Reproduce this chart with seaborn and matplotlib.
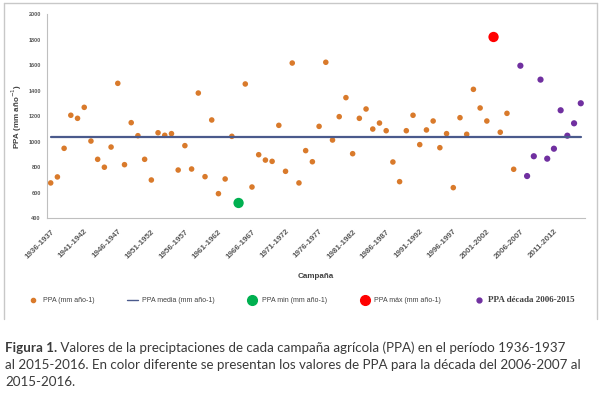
import numpy as np
import pandas as pd
import seaborn as sns
import matplotlib.pyplot as plt
from matplotlib.lines import Line2D

# PPA por campaña (mm año-1), 1936-1937 ... 2015-2016
primer_anio = 1936
ppa = [677, 724, 948, 1207, 1183, 1269, 1005, 862, 800, 958,
       1457, 820, 1149, 1047, 862, 700, 1070, 1050, 1063, 778,
       969, 786, 1381, 726, 1170, 593, 708, 1042, 520, 1452,
       645, 898, 856, 846, 1128, 768, 1616, 677, 930, 843,
       1120, 1622, 1013, 1196, 1345, 906, 1183, 1256, 1099, 1146,
       1086, 841, 687, 1086, 1207, 977, 1092, 1162, 953, 1063,
       640, 1188, 1058, 1410, 1264, 1162, 1820, 1074, 1222, 784,
       1595, 731, 886, 1486, 867, 945, 1246, 1047, 1144, 1301]
ppa_media = 1040
decada_inicio = 2006

campanias = [f"{primer_anio + i}-{primer_anio + i + 1}" for i in range(len(ppa))]
df = pd.DataFrame({"idx": range(len(ppa)), "campania": campanias, "ppa": ppa})
anio = primer_anio + df["idx"]
df["grupo"] = np.where(anio >= decada_inicio, "decada", "normal")
df.loc[df["ppa"].idxmin(), "grupo"] = "min"
df.loc[df["ppa"].idxmax(), "grupo"] = "max"

naranja = "#D97A2B"
azul = "#4A5A8C"
verde = "#00B050"
rojo = "#FF0000"
violeta = "#7030A0"
gris = "#595959"

sns.set_style("white")
plt.rcParams["font.family"] = ["Liberation Sans", "DejaVu Sans"]

fig = plt.figure(figsize=(6, 3.97), dpi=100)
ax = fig.add_axes([47 / 600, 1 - 218.3 / 397, 538 / 600, (218.3 - 14) / 397])

sns.lineplot(x=df["idx"], y=[ppa_media] * len(df), color=azul, linewidth=1.6, ax=ax)
sns.scatterplot(data=df[df["grupo"] == "normal"], x="idx", y="ppa", color=naranja,
                s=16, edgecolor="none", ax=ax, legend=False)
sns.scatterplot(data=df[df["grupo"] == "decada"], x="idx", y="ppa", color=violeta,
                s=20, edgecolor="none", ax=ax, legend=False)
sns.scatterplot(data=df[df["grupo"] == "min"], x="idx", y="ppa", color=verde,
                s=55, edgecolor="none", ax=ax, legend=False)
sns.scatterplot(data=df[df["grupo"] == "max"], x="idx", y="ppa", color=rojo,
                s=55, edgecolor="none", ax=ax, legend=False)

ax.set_xlim(-0.55, 79.63)
ax.set_ylim(400, 2000)
ax.set_yticks(range(400, 2001, 200))
ax.set_yticklabels([str(v) for v in range(400, 2001, 200)], fontsize=4, fontweight="bold", color=gris)
pos = list(range(0, len(ppa), 5))
ax.set_xticks(pos)
ax.set_xticklabels([campanias[i] for i in pos], rotation=45, ha="right",
                   rotation_mode="anchor", fontsize=5.8, fontweight="bold", color=gris)
ax.tick_params(axis="x", length=2, width=0.6, color="#BFBFBF", pad=5)
ax.tick_params(axis="y", length=2.5, width=0.6, color="#BFBFBF", pad=2)
ax.set_xlabel("")
ax.set_ylabel("PPA (mm año$^{-1}$)", fontsize=5.8, fontweight="bold", color="#404040", labelpad=3)
for lado in ["top", "right"]:
    ax.spines[lado].set_visible(False)
for lado in ["left", "bottom"]:
    ax.spines[lado].set_color("#BFBFBF")
    ax.spines[lado].set_linewidth(0.8)

fig.text(316 / 600, 1 - 277 / 397, "Campaña", ha="center", va="center",
         fontsize=5.8, fontweight="bold", color="#404040")

handles = [
    Line2D([], [], marker="o", linestyle="none", color=naranja, markersize=3),
    Line2D([], [], color=azul, linewidth=1),
    Line2D([], [], marker="o", linestyle="none", color=verde, markersize=7),
    Line2D([], [], marker="o", linestyle="none", color=rojo, markersize=7),
    Line2D([], [], marker="o", linestyle="none", color=violeta, markersize=3.5),
]
etiquetas = ["PPA (mm año-1)", "PPA media (mm año-1)", "PPA min (mm año-1)",
             "PPA máx (mm año-1)", "PPA década 2006-2015"]
leg = fig.legend(handles, etiquetas, ncol=5, loc="center", bbox_to_anchor=(0.5025, 1 - 300 / 397),
                 frameon=False, fontsize=5, handlelength=1.6, handletextpad=0.6,
                 columnspacing=4.6)
for t in leg.get_texts():
    t.set_color("#404040")
leg.get_texts()[-1].set_fontfamily("Liberation Serif")
leg.get_texts()[-1].set_fontweight("bold")
leg.get_texts()[-1].set_fontsize(6.5)

# marco del gráfico
marco = dict(color="#C8C8C8", linewidth=1, transform=fig.transFigure)
fig.add_artist(Line2D([4 / 600, 4 / 600], [1 - 319 / 397, 1 - 3 / 397], **marco))
fig.add_artist(Line2D([4 / 600, 597 / 600], [1 - 3 / 397, 1 - 3 / 397], **marco))
fig.add_artist(Line2D([597 / 600, 597 / 600], [1 - 319 / 397, 1 - 3 / 397], **marco))

# pie de figura
tam = 9.6
cap = dict(fontsize=tam, color="#3A3A3A", va="baseline", family=["Lato", "DejaVu Sans"])
fig1 = fig.text(5 / 600, 1 - 352 / 397, "Figura 1.", fontweight="bold", **cap)
ax.annotate(" Valores de la preciptaciones de cada campaña agrícola (PPA) en el período 1936-1937",
            xy=(1, 0), xycoords=fig1, va="bottom", ha="left", annotation_clip=False,
            fontsize=tam, color="#3A3A3A", family=["Lato", "DejaVu Sans"])
fig.text(5 / 600, 1 - 369 / 397,
         "al 2015-2016. En color diferente se presentan los valores de PPA para la década del 2006-2007 al",
         **cap)
fig.text(5 / 600, 1 - 386 / 397, "2015-2016.", **cap)

fig.savefig("out.png", dpi=100)
